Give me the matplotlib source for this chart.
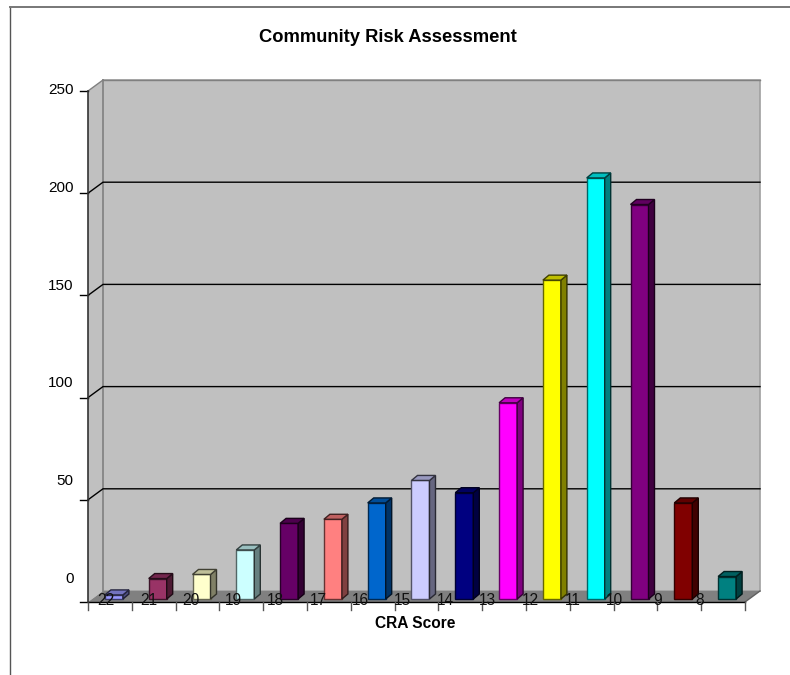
import matplotlib
matplotlib.use("Agg")
import matplotlib.pyplot as plt
from matplotlib.colors import to_rgb
from matplotlib.patches import Polygon

plt.rcParams['font.family'] = ['Liberation Sans', 'DejaVu Sans']

scores = ["22", "21", "20", "19", "18", "17", "16", "15", "14", "13", "12", "11", "10", "9", "8"]
counts = [2, 10, 12, 24, 37, 39, 47, 58, 52, 96, 156, 206, 193, 47, 11]
colors = ["#9999ff", "#993366", "#ffffcc", "#ccffff", "#660066", "#ff8080", "#0066cc", "#ccccff",
          "#000080", "#ff00ff", "#ffff00", "#00ffff", "#800080", "#800000", "#008080"]
y_ticks = [0, 50, 100, 150, 200, 250]

W, H = 790, 675
# front plane of the 3D box, in pixels
X0, X1, Y0, Y1 = 88, 745, 602, 91
PX = len(scores) / (X1 - X0)      # data units per pixel, x
PY = 250 / (Y0 - Y1)              # data units per pixel, y
DEPTH_X, DEPTH_Y = 15 * PX, 11 * PY


def shade(color, factor):
    return tuple(c * factor for c in to_rgb(color))


fig = plt.figure(figsize=(W / 100, H / 100), dpi=100)

# outer chart border: left and top only
fig.add_artist(plt.Line2D([10 / W, 10 / W], [0, 1 - 6.5 / H], color="#555555", lw=1.0))
fig.add_artist(plt.Line2D([10 / W, 1], [1 - 6.5 / H, 1 - 6.5 / H], color="#777777", lw=1.4))

ax = fig.add_axes([X0 / W, 1 - Y0 / H, (X1 - X0) / W, (Y0 - Y1) / H])
ax.set_xlim(0, len(scores))
ax.set_ylim(0, 250)
ax.axis('off')

n = len(scores)
# side wall, back wall, floor
ax.add_patch(Polygon([(0, 0), (DEPTH_X, DEPTH_Y), (DEPTH_X, 250 + DEPTH_Y), (0, 250)],
                     fc="#c0c0c0", ec="none", clip_on=False, zorder=1))
ax.add_patch(Polygon([(DEPTH_X, DEPTH_Y), (n + DEPTH_X, DEPTH_Y), (n + DEPTH_X, 250 + DEPTH_Y), (DEPTH_X, 250 + DEPTH_Y)],
                     fc="#c0c0c0", ec="#a0a0a0", lw=1.2, clip_on=False, zorder=1))
ax.add_patch(Polygon([(0, 0), (n, 0), (n + DEPTH_X, DEPTH_Y), (DEPTH_X, DEPTH_Y)],
                     fc="#808080", ec="none", clip_on=False, zorder=1.5))
ax.plot([DEPTH_X, DEPTH_X], [DEPTH_Y, 250 + DEPTH_Y], color="#858585", lw=1.2, clip_on=False, zorder=2)
ax.plot([0, DEPTH_X], [250, 250 + DEPTH_Y], color="#808080", lw=1.0, clip_on=False, zorder=2)
ax.plot([DEPTH_X, n + DEPTH_X], [250 + DEPTH_Y, 250 + DEPTH_Y], color="#808080", lw=1.0, clip_on=False, zorder=2)

# gridlines wrap from the side wall onto the back wall
for v in y_ticks[1:-1]:
    ax.plot([0, DEPTH_X, n + DEPTH_X], [v, v + DEPTH_Y, v + DEPTH_Y], color="black", lw=1.0,
            clip_on=False, zorder=2)
ax.plot([n, n + DEPTH_X], [0, DEPTH_Y], color="#606060", lw=1.0, clip_on=False, zorder=2)

# axis lines and ticks
ax.plot([0, 0], [0, 250], color="#333333", lw=1.2, clip_on=False, zorder=6)
ax.plot([0, n], [0, 0], color="black", lw=1.0, clip_on=False, zorder=3)
for v in y_ticks:
    ax.plot([-8 * PX, 0], [v, v], color="black", lw=1.0, clip_on=False, zorder=3)
for i in range(n + 1):
    ax.plot([i, i], [0, -8 * PY], color="#555555", lw=1.0, clip_on=False, zorder=3)

# bars: front face plus hand-built top and side faces
bar_w = 18 * PX
dx, dy = 6 * PX, 5 * PY
base = 3 * PY
for i, (v, c) in enumerate(zip(counts, colors)):
    left = i + 0.5 - bar_w / 2 + 4 * PX
    right = left + bar_w
    ax.bar(left, v, width=bar_w, bottom=base, align='edge', color=c,
           edgecolor=shade(c, 0.4), lw=1.0, clip_on=False, zorder=4)
    top = base + v
    ax.add_patch(Polygon([(right, base), (right + dx, base + dy), (right + dx, top + dy), (right, top)],
                         fc=shade(c, 0.5), ec=shade(c, 0.2), lw=1.0, clip_on=False, zorder=4))
    ax.add_patch(Polygon([(left, top), (right, top), (right + dx, top + dy), (left + dx, top + dy)],
                         fc=shade(c, 0.75), ec=shade(c, 0.25), lw=1.0, clip_on=False, zorder=4))

# tick labels sit slightly off their ticks and run on a tighter pitch
for v in y_ticks:
    ax.text(-14.5 * PX, 11.2 + 0.957 * v, str(v), ha='right', va='center', fontsize=11,
            color="black", clip_on=False, zorder=7)
for i, s in enumerate(scores):
    ax.text(0.41 + 0.968 * i, 0.8, s, ha='center', va='center', fontsize=11.2, color="#111111",
            clip_on=False, zorder=7)

fig.text(388 / W, 1 - 38 / H, "Community Risk Assessment", ha='center', va='center',
         fontsize=13.2, fontweight='bold')
fig.text(415 / W, 1 - 623 / H, "CRA Score", ha='center', va='center', fontsize=11.2, fontweight='bold')

fig.savefig("out.png", dpi=100)
